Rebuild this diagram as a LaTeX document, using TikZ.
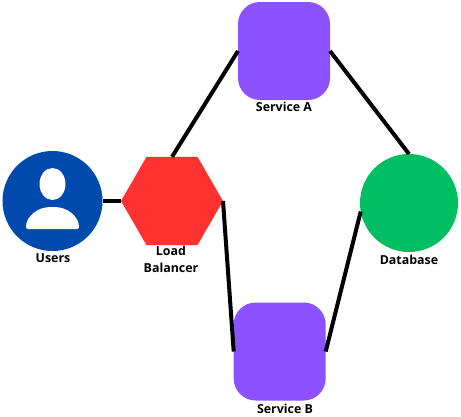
\documentclass[tikz,border=0pt]{standalone}
\usepackage{fontspec}
\setmainfont{Open Sans}
\usetikzlibrary{shapes.geometric}
\definecolor{ublue}{HTML}{004AAD}
\definecolor{lbred}{HTML}{FF3131}
\definecolor{svcpurple}{HTML}{8C52FF}
\definecolor{dbgreen}{HTML}{00BF63}
\tikzset{
  conn/.style={draw=black,line width=4pt},
  svcbox/.style={rectangle,fill=svcpurple,rounded corners=22pt,minimum width=92pt,minimum height=98pt,inner sep=0pt,outer sep=0pt},
  disc/.style={circle,minimum size=#1,inner sep=0pt,outer sep=0pt},
  captext/.style={font=\bfseries\fontsize{12.4}{17}\selectfont,text=black,inner sep=0pt,align=center},
}
\begin{document}
\begin{tikzpicture}[x=1pt,y=-1pt]
\useasboundingbox (0,0) rectangle (461,416);
\node[disc=100pt,fill=ublue] (users) at (52.5,201) {};
\node[regular polygon,regular polygon sides=6,minimum size=102pt,inner sep=0pt,outer sep=0pt,fill=lbred] (lb) at (172,201) {};
\node[svcbox] (a) at (284,51) {};
\node[svcbox] (b) at (279.7,351.5) {};
\node[disc=98pt,fill=dbgreen] (db) at (409,203) {};
% user icon
\fill[white] (52.5,184) ellipse [x radius=13,y radius=16];
\fill[white,rounded corners=2pt] (26,229) .. controls (26,216) and (38,207) .. (52.5,207) .. controls (67,207) and (79,216) .. (79,229) -- cycle;
% connectors
\draw[conn] (users.east) -- (lb.west);
\draw[conn] (lb.north) -- (a.west);
\draw[conn] (a.east) -- (db.north);
\draw[conn] (lb.east) -- (b.west);
\draw[conn] (db.190) -- (b.east);
% labels
\node[captext] (tusers) at (53,258) {Users};
\node[captext] (tlb) at (171,259.5) {Load\\Balancer};
\node[captext] (ta) at (284,107) {Service A};
\node[captext] (tb) at (285,409) {Service B};
\node[captext] (tdb) at (409,260) {Database};
\end{tikzpicture}
\end{document}
